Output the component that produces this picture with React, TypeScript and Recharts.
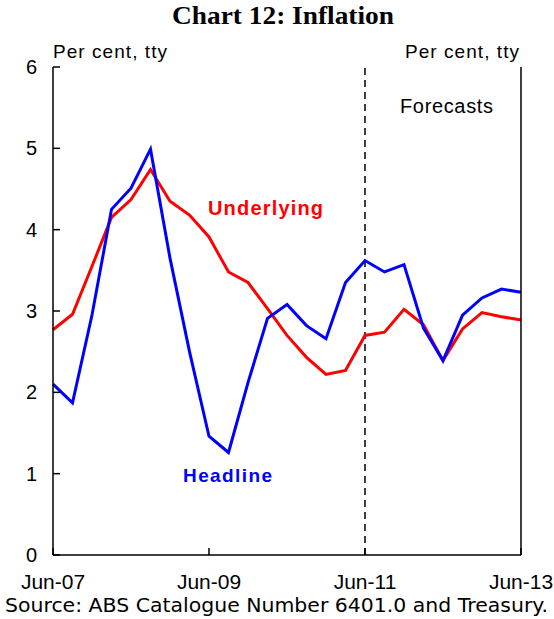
import React from 'react';
import {
  LineChart,
  Line,
  XAxis,
  YAxis,
  ReferenceLine
} from 'recharts';

const quarters = [
  'Jun-07', 'Sep-07', 'Dec-07', 'Mar-08', 'Jun-08', 'Sep-08', 'Dec-08', 'Mar-09',
  'Jun-09', 'Sep-09', 'Dec-09', 'Mar-10', 'Jun-10', 'Sep-10', 'Dec-10', 'Mar-11',
  'Jun-11', 'Sep-11', 'Dec-11', 'Mar-12', 'Jun-12', 'Sep-12', 'Dec-12', 'Mar-13',
  'Jun-13'
];

const headline = [
  2.10, 1.87, 2.95, 4.25, 4.51, 4.99, 3.65, 2.50,
  1.46, 1.26, 2.12, 2.91, 3.08, 2.82, 2.66, 3.35,
  3.62, 3.48, 3.57, 2.79, 2.39, 2.95, 3.16, 3.27,
  3.23
];

const underlying = [
  2.77, 2.96, 3.55, 4.15, 4.37, 4.74, 4.35, 4.18,
  3.91, 3.48, 3.35, 3.03, 2.70, 2.43, 2.22, 2.27,
  2.70, 2.74, 3.02, 2.83, 2.39, 2.78, 2.98, 2.93,
  2.89
];

const yTicks = [0, 1, 2, 3, 4, 5, 6];

const data = quarters.map((q, i) => ({
  quarter: q,
  headline: headline[i],
  underlying: underlying[i]
}));

const sans = '"Liberation Sans", Arial, sans-serif';
const tickStyle = { fontFamily: sans, fontSize: 20, fill: '#000' };
const axisLine = { stroke: '#000', strokeWidth: 1.5 };

const App: React.FC = () => {
  return (
    <div style={{ position: 'absolute', left: 0, top: 0, width: 554, height: 619, background: '#fff' }}>
      <LineChart
        width={554}
        height={619}
        data={data}
        margin={{ top: 67, right: 0, bottom: 0, left: 0 }}
      >
        <XAxis
          dataKey="quarter"
          scale="point"
          interval={7}
          height={64}
          axisLine={axisLine}
          tickLine={axisLine}
          tickSize={-7}
          tickMargin={26}
          tick={{ ...tickStyle, fontSize: 21 }}
        />
        <YAxis
          yAxisId="left"
          domain={[0, 6]}
          ticks={yTicks}
          width={53}
          axisLine={axisLine}
          tickLine={axisLine}
          tickSize={-7}
          tickMargin={23}
          tick={tickStyle}
        />
        <YAxis
          yAxisId="right"
          orientation="right"
          domain={[0, 6]}
          ticks={yTicks}
          width={33}
          axisLine={axisLine}
          tickLine={axisLine}
          tickSize={-7}
          tickMargin={14}
          tick={tickStyle}
        />
        <ReferenceLine
          yAxisId="left"
          x="Jun-11"
          stroke="#000"
          strokeWidth={1.5}
          strokeDasharray="7 5"
        />
        <Line
          yAxisId="left"
          dataKey="underlying"
          stroke="#ff0000"
          strokeWidth={3}
          dot={false}
          isAnimationActive={false}
        />
        <Line
          yAxisId="left"
          dataKey="headline"
          stroke="#0000ff"
          strokeWidth={3}
          dot={false}
          isAnimationActive={false}
        />
      </LineChart>
      <svg
        width={554}
        height={619}
        style={{ position: 'absolute', left: 0, top: 0, pointerEvents: 'none' }}
      >
        <text x={172} y={24} textLength={222} lengthAdjust="spacingAndGlyphs"
          style={{ fontFamily: '"Liberation Serif", serif', fontWeight: 'bold', fontSize: 25 }}>
          Chart 12: Inflation
        </text>
        <text x={53} y={58} textLength={114} style={{ fontFamily: sans, fontSize: 19 }}>
          Per  cent, tty
        </text>
        <text x={405} y={58} textLength={114} style={{ fontFamily: sans, fontSize: 19 }}>
          Per  cent, tty
        </text>
        <text x={400} y={113} textLength={93} style={{ fontFamily: sans, fontSize: 20 }}>
          Forecasts
        </text>
        <text x={208} y={215} textLength={115}
          style={{ fontFamily: sans, fontSize: 20, fontWeight: 'bold', fill: '#ff0000' }}>
          Underlying
        </text>
        <text x={183} y={482} textLength={89}
          style={{ fontFamily: sans, fontSize: 19, fontWeight: 'bold', fill: '#0000ff' }}>
          Headline
        </text>
        <text x={5} y={612} textLength={543} lengthAdjust="spacingAndGlyphs"
          style={{ fontFamily: '"DejaVu Sans", sans-serif', fontSize: 20 }}>
          Source:  ABS Catalogue Number 6401.0 and Treasury.
        </text>
      </svg>
    </div>
  );
};

export default App;
